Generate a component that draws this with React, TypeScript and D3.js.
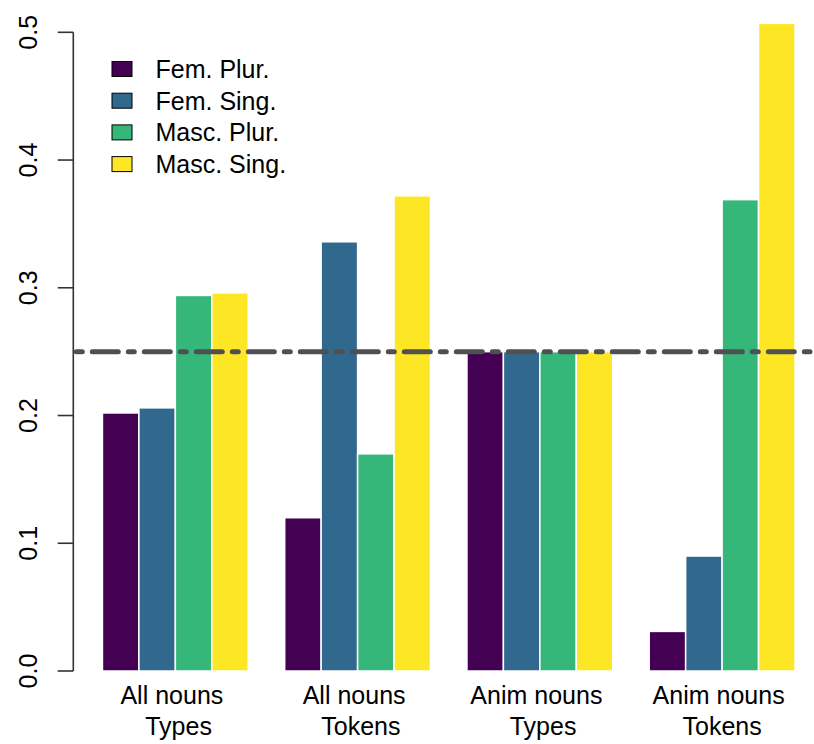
import React from "react";
import * as d3 from "d3";

const groups = ["All nouns \n Types", "All nouns \n Tokens", "Anim nouns \n Types", "Anim nouns \nTokens"];
const seriesNames = ["Fem. Plur.", "Fem. Sing.", "Masc. Plur.", "Masc. Sing."];
const femPlur = [0.202, 0.12, 0.25, 0.031];
const femSing = [0.206, 0.336, 0.25, 0.09];
const mascPlur = [0.294, 0.17, 0.25, 0.369];
const mascSing = [0.296, 0.372, 0.25, 0.507];
const seriesColors = ["#440154", "#31688E", "#35B779", "#FDE725"];
const yTicks = [0, 0.1, 0.2, 0.3, 0.4, 0.5];
const refLine = 0.25;

const W = 814;
const H = 744;

export default function App() {
  const series = [femPlur, femSing, mascPlur, mascSing];
  const y = d3.scaleLinear().domain([0, 0.5]).range([671, 32.3]);
  // R barplot beside=TRUE with space=c(0,1): 20 units total
  const xu = d3.scaleLinear().domain([0, 20]).range([66, 795]);
  const unit = xu(1) - xu(0);
  const axisX = 73.3;
  const font = "'Liberation Sans', Arial, sans-serif";

  const bars: any[] = [];
  groups.forEach((g, gi) => {
    series.forEach((s, si) => {
      const u = 1 + 5 * gi + si;
      bars.push({ key: `${gi}-${si}`, x: xu(u), w: unit, v: s[gi], c: seriesColors[si] });
    });
  });

  return (
    <svg
      width={W}
      height={H}
      style={{ position: "absolute", left: 0, top: 0, background: "#fff" }}
      fontFamily={font}
    >
      <rect x={0} y={0} width={W} height={H} fill="#fff" />
      {bars.map((b) => (
        <rect
          key={b.key}
          x={b.x}
          y={y(b.v)}
          width={b.w}
          height={y(0) - y(b.v)}
          fill={b.c}
          stroke="#fff"
          strokeWidth={1.5}
        />
      ))}
      {/* reference line */}
      <line
        x1={axisX}
        x2={810}
        y1={y(refLine)}
        y2={y(refLine)}
        stroke="#505050"
        strokeWidth={5}
        strokeLinecap="round"
        strokeDasharray="6 10 26 10"
        strokeDashoffset={-3}
      />
      {/* y axis */}
      <line x1={axisX} x2={axisX} y1={y(0)} y2={y(0.5)} stroke="#333" strokeWidth={1.6} />
      {yTicks.map((t) => (
        <g key={t}>
          <line x1={57.7} x2={axisX} y1={y(t)} y2={y(t)} stroke="#333" strokeWidth={1.6} />
          <text
            transform={`translate(37,${y(t)}) rotate(-90)`}
            textAnchor="middle"
            fontSize={25}
            fill="#000"
          >
            {d3.format(".1f")(t)}
          </text>
        </g>
      ))}
      {/* x labels */}
      {groups.map((g, gi) => {
        const cx = (xu(1 + 5 * gi) + xu(5 + 5 * gi)) / 2;
        return g.split("\n").map((line, li) => (
          <text
            key={`${gi}-${li}`}
            x={cx}
            y={703.5 + li * 31}
            textAnchor="middle"
            fontSize={25}
            fill="#000"
            style={{ whiteSpace: "pre" }}
          >
            {line}
          </text>
        ));
      })}
      {/* legend */}
      {seriesNames.map((n, i) => {
        const cy = 69 + i * 31.7;
        return (
          <g key={n}>
            <rect x={112} y={cy - 7.5} width={20} height={15} fill={seriesColors[i]} stroke="#000" strokeWidth={1} />
            <text x={155.5} y={cy + 9} fontSize={25} fill="#000">
              {n}
            </text>
          </g>
        );
      })}
    </svg>
  );
}
